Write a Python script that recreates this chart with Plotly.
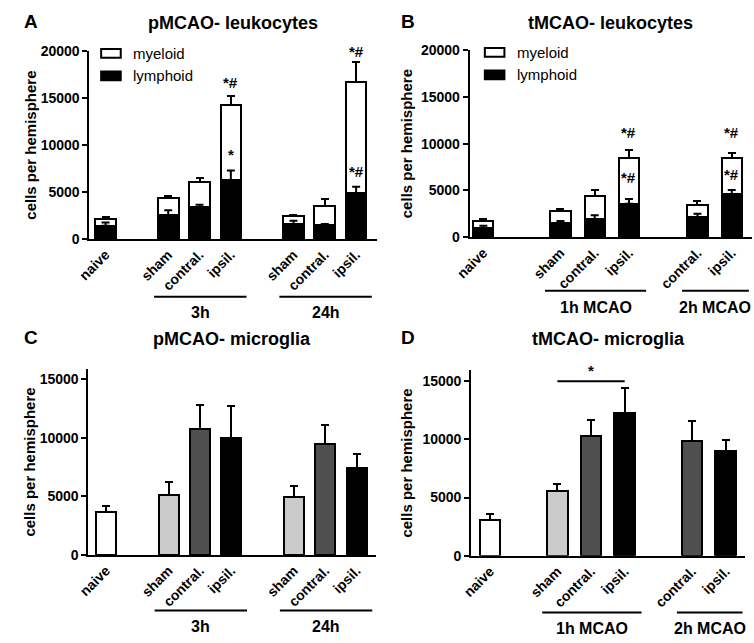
import plotly.graph_objects as go

W, H = 754, 643

# ---------------- data ----------------
A_labels = ["naive", "sham", "contral.", "ipsil.", "sham", "contral.", "ipsil."]
A_total = [2175, 4350, 6080, 14300, 2450, 3560, 16680]
A_total_err = [205, 240, 450, 930, 70, 690, 2170]
A_lymph = [1420, 2520, 3390, 6250, 1590, 1480, 4870]
A_lymph_err = [340, 560, 270, 1030, 350, 120, 690]
A_groups = [("3h", 1, 3), ("24h", 4, 6)]
A_sig = [(3, 16600, "*#"), (3, 9000, "*"), (6, 19900, "*#"), (6, 7150, "*#")]

B_labels = ["naive", "sham", "contral.", "ipsil.", "contral.", "ipsil."]
B_total = [1740, 2850, 4450, 8450, 3470, 8520]
B_total_err = [240, 170, 590, 870, 350, 520]
B_lymph = [940, 1560, 1910, 3580, 2160, 4620]
B_lymph_err = [280, 180, 420, 490, 340, 420]
B_groups = [("1h MCAO", 1, 3), ("2h MCAO", 4, 5)]
B_sig = [(3, 11160, "*#"), (3, 6360, "*#"), (5, 11160, "*#"), (5, 6680, "*#")]

C_labels = ["naive", "sham", "contral.", "ipsil.", "sham", "contral.", "ipsil."]
C_vals = [3690, 5140, 10720, 10020, 4940, 9520, 7440]
C_err = [475, 1110, 2080, 2700, 975, 1560, 1170]
C_kind = ["naive", "sham", "contral", "ipsil", "sham", "contral", "ipsil"]
C_groups = [("3h", 1, 3), ("24h", 4, 6)]

D_labels = ["naive", "sham", "contral.", "ipsil.", "contral.", "ipsil."]
D_vals = [3075, 5590, 10280, 12290, 9840, 9025]
D_err = [475, 560, 1370, 2100, 1760, 895]
D_kind = ["naive", "sham", "contral", "ipsil", "contral", "ipsil"]
D_groups = [("1h MCAO", 1, 3), ("2h MCAO", 4, 5)]
D_sig_bar = (1, 3, 15000, "*")

# ---------------- layout / style ----------------
KIND_COLOR = {"naive": "#ffffff", "sham": "#cbcbcb", "contral": "#4f4f4f", "ipsil": "#000000"}
FONT = "Arial, Liberation Sans, sans-serif"

panels = {
    "A": dict(ax="", xd=(75, 369), yd=(237, 44), yr=(0, 20000), x0=91.5, slot=32,
              pos=[0, 2, 3, 4, 6, 7, 8], bw=0.66, title="pMCAO- leukocytes",
              letter_xy=(15, 14), title_y=15, ytitle_x=14, gline=296, glabel=312),
    "B": dict(ax="2", xd=(463.5, 751.5), yd=(235, 43.3), yr=(0, 20000), x0=477.5, slot=35,
              pos=[0, 2.25, 3.25, 4.25, 6.25, 7.25], bw=0.59, title="tMCAO- leukocytes",
              letter_xy=(401, 14), title_y=15, ytitle_x=399, gline=290, glabel=307),
    "C": dict(ax="3", xd=(74, 368), yd=(561, 370), yr=(0, 15900), x0=92, slot=32,
              pos=[0, 2, 3, 4, 6, 7, 8], bw=0.64, title="pMCAO- microglia",
              letter_xy=(15, 338), title_y=339, ytitle_x=14, gline=618, glabel=634),
    "D": dict(ax="4", xd=(465, 745), yd=(561.7, 371.7), yr=(0, 15920), x0=484.3, slot=34.4,
              pos=[0, 2, 3, 4, 6, 7], bw=0.61, title="tMCAO- microglia",
              letter_xy=(401, 338), title_y=339, ytitle_x=399, gline=620, glabel=636),
}
labels = {"A": A_labels, "B": B_labels, "C": C_labels, "D": D_labels}
groups = {"A": A_groups, "B": B_groups, "C": C_groups, "D": D_groups}


def pxx(p):
    return p / W


def pxy(p):
    return 1 - p / H


fig = go.Figure()
BAR_LINE = dict(color="black", width=2)


def err(arr):
    return dict(type="data", array=arr, arrayminus=[0] * len(arr), symmetric=False,
                color="black", thickness=2, width=4)


# stacked panels A, B
for key, total, terr, lym, lerr in [("A", A_total, A_total_err, A_lymph, A_lymph_err),
                                      ("B", B_total, B_total_err, B_lymph, B_lymph_err)]:
    p = panels[key]
    xa, ya = "x" + p["ax"], "y" + p["ax"]
    mye = [t - l for t, l in zip(total, lym)]
    fig.add_trace(go.Bar(x=p["pos"], y=lym, width=p["bw"], marker=dict(color="black", line=BAR_LINE),
                         xaxis=xa, yaxis=ya, showlegend=False, name="lymphoid"))
    fig.add_trace(go.Bar(x=p["pos"], y=mye, width=p["bw"], marker=dict(color="white", line=BAR_LINE),
                         error_y=err(terr), xaxis=xa, yaxis=ya, showlegend=False, name="myeloid"))
    fig.add_trace(go.Scatter(x=p["pos"], y=lym, mode="markers",
                             marker=dict(size=1, color="rgba(0,0,0,0)"),
                             error_y=err(lerr), xaxis=xa, yaxis=ya, showlegend=False,
                             hoverinfo="skip"))

# single bar panels C, D
for key, vals, e, kind in [("C", C_vals, C_err, C_kind), ("D", D_vals, D_err, D_kind)]:
    p = panels[key]
    xa, ya = "x" + p["ax"], "y" + p["ax"]
    fig.add_trace(go.Bar(x=p["pos"], y=vals, width=p["bw"],
                         marker=dict(color=[KIND_COLOR[k] for k in kind], line=BAR_LINE),
                         error_y=err(e), xaxis=xa, yaxis=ya, showlegend=False))

layout = dict(width=W, height=H, margin=dict(l=0, r=0, t=0, b=0), barmode="stack",
              plot_bgcolor="white", paper_bgcolor="white", font=dict(family=FONT, color="black"))
annotations = []
shapes = []

for key, p in panels.items():
    xr = ((p["xd"][0] - p["x0"]) / p["slot"], (p["xd"][1] - p["x0"]) / p["slot"])
    layout["xaxis" + p["ax"]] = dict(
        domain=[pxx(p["xd"][0]), pxx(p["xd"][1])], range=list(xr), anchor="y" + p["ax"],
        showline=True, linewidth=2, linecolor="black", showgrid=False, zeroline=False,
        ticks="", tickvals=p["pos"], ticktext=labels[key], tickangle=-45,
        tickfont=dict(size=14, family=FONT, weight="bold"), fixedrange=True)
    layout["yaxis" + p["ax"]] = dict(
        domain=[pxy(p["yd"][0]), pxy(p["yd"][1])], range=list(p["yr"]), anchor="x" + p["ax"],
        showline=True, linewidth=2, linecolor="black", showgrid=False, zeroline=False,
        ticks="outside", ticklen=5, tickwidth=2, tickcolor="black", dtick=5000, tickformat="d",
        tickfont=dict(size=14, family=FONT, weight="bold"), fixedrange=True)
    # panel letter
    annotations.append(dict(text="<b>%s</b>" % key, x=pxx(p["letter_xy"][0]), y=pxy(p["letter_xy"][1]),
                            xref="paper", yref="paper", showarrow=False, font=dict(size=19),
                            xanchor="center", yanchor="middle"))
    # title
    annotations.append(dict(text="<b>%s</b>" % p["title"], x=pxx((p["xd"][0] + p["xd"][1]) / 2),
                            y=pxy(p["title_y"]), xref="paper", yref="paper", showarrow=False,
                            font=dict(size=18), xanchor="center", yanchor="middle"))
    # y title
    annotations.append(dict(text="<b>cells per hemisphere</b>", x=pxx(p["ytitle_x"]),
                            y=pxy((p["yd"][0] + p["yd"][1]) / 2), xref="paper", yref="paper",
                            showarrow=False, textangle=-90, font=dict(size=15),
                            xanchor="center", yanchor="middle"))
    # group lines + labels
    for name, i0, i1 in groups[key]:
        gx0 = p["pos"][i0] - 0.45
        gx1 = p["pos"][i1] + 0.5
        shapes.append(dict(type="line", xref="x" + p["ax"], yref="paper", x0=gx0, x1=gx1,
                           y0=pxy(p["gline"]), y1=pxy(p["gline"]), line=dict(color="black", width=2)))
        annotations.append(dict(text="<b>%s</b>" % name, x=(gx0 + gx1) / 2, y=pxy(p["glabel"]),
                                xref="x" + p["ax"], yref="paper", showarrow=False,
                                font=dict(size=16), xanchor="center", yanchor="middle"))

# significance marks
for key, sig in [("A", A_sig), ("B", B_sig)]:
    p = panels[key]
    for idx, yv, txt in sig:
        annotations.append(dict(text="<b>%s</b>" % txt, x=p["pos"][idx], y=yv, xref="x" + p["ax"],
                                yref="y" + p["ax"], showarrow=False, font=dict(size=15),
                                xanchor="center", yanchor="middle"))
pD = panels["D"]
i0, i1, yv, txt = D_sig_bar
shapes.append(dict(type="line", xref="x4", yref="y4", x0=pD["pos"][i0], x1=pD["pos"][i1],
                   y0=yv, y1=yv, line=dict(color="black", width=2)))
annotations.append(dict(text="<b>%s</b>" % txt, x=(pD["pos"][i0] + pD["pos"][i1]) / 2, y=yv,
                        xref="x4", yref="y4", showarrow=False, font=dict(size=15),
                        xanchor="center", yanchor="bottom"))

# manual legends (panels A and B)
legend_spec = [("A", 87, 42), ("B", 479, 41)]
for key, lx, ly in legend_spec:
    for k, (name, fill) in enumerate([("myeloid", "white"), ("lymphoid", "black")]):
        top = ly + k * 23
        shapes.append(dict(type="rect", xref="paper", yref="paper", x0=pxx(lx), x1=pxx(lx + 20),
                           y0=pxy(top + 9), y1=pxy(top), fillcolor=fill,
                           line=dict(color="black", width=2)))
        annotations.append(dict(text=name, x=pxx(lx + 31), y=pxy(top + 4.5), xref="paper", yref="paper",
                                showarrow=False, font=dict(size=15), xanchor="left", yanchor="middle"))

layout["annotations"] = annotations
layout["shapes"] = shapes
fig.update_layout(**layout)
fig.write_html("out.html", config={"displayModeBar": False},
               post_script="document.body.style.margin='0';document.body.style.padding='0';"
                           "document.body.style.overflow='hidden';")
